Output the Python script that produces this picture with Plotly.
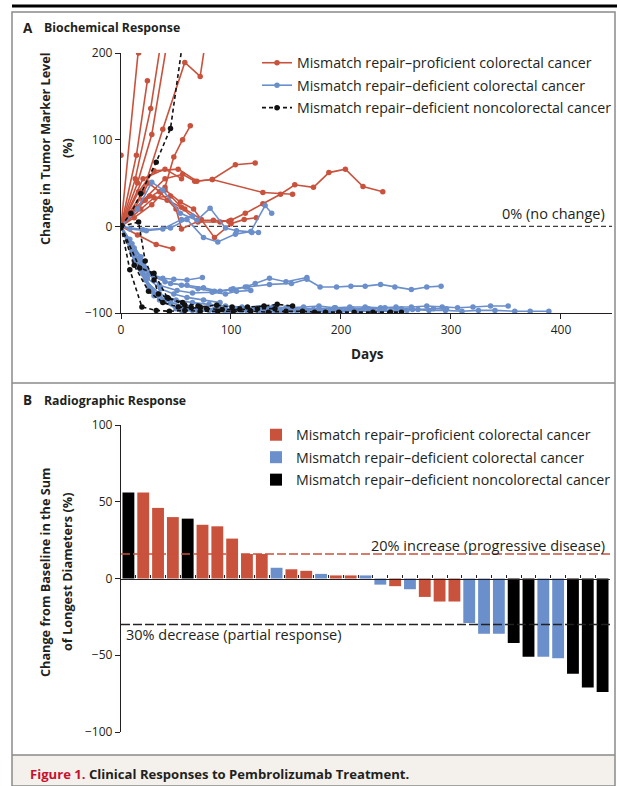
import plotly.graph_objects as go

W, H = 617, 786
def px(x): return x / W
def py(y): return 1 - y / H

RED = "#c9523d"
BLUE = "#6b8fcb"
BLACK = "#111111"
TXT = "#231f20"
FONT = "Open Sans"

# ---------------- Panel A data (days, % change) ----------------
red_days = [
    [0, 16, 19],
    [0, 14, 24],
    [0, 13, 27, 36],
    [0, 15, 28, 41],
    [0, 20, 38, 58, 72, 77],
    [0, 22, 40, 48, 56, 63],
    [0, 16, 30, 52, 69, 83, 104, 122],
    [0, 20, 40, 56, 67, 83, 129, 156],
    [0, 18, 30, 45, 55, 70, 90, 100, 113, 129, 145, 158, 175, 189, 204, 220, 238],
    [0, 12, 28, 40, 54, 66, 85, 100, 112, 123],
    [0, 15, 32, 47],
    [0, 10, 25, 35, 50, 55, 72, 84, 98],
    [0, 12, 26, 42, 58, 73],
    [0, 20, 40, 55],
    [0],
]
red_vals = [
    [0, 200, 245],
    [0, 82, 168],
    [0, 55, 136, 210],
    [0, 50, 106, 205],
    [0, 40, 112, 189, 173, 215],
    [0, 30, 45, 80, 100, 116],
    [0, 40, 64, 66, 52, 54, 71, 73],
    [0, 30, 55, 60, 52, 54, 39, 37],
    [0, 20, 33, 35, 22, 5, 5, 7, 15, 26, 37, 48, 45, 62, 66, 46, 40],
    [0, 10, 25, 42, 28, 20, -13, 3, 8, 10],
    [0, -10, -21, -26],
    [0, 15, 50, 40, 20, -3, 7, 7, 6],
    [0, 20, 35, 30, 20, 8],
    [0, 55, 66, 55],
    [82],
]

blue_days = [
    [0, 15, 28, 38, 54, 69, 81, 95, 105, 119, 125],
    [0, 20, 45, 60, 75, 88, 104, 118, 131, 137],
    [0, 8, 23, 38, 55, 65],
    [0, 8, 18, 27, 38, 48, 60, 74],
    [0, 10, 20, 30, 45, 60, 75, 90, 102, 113, 122, 135, 150, 169],
    [0, 12, 25, 40, 55, 70, 85, 100, 115, 135, 155, 169, 181, 196, 209, 222, 236, 249, 264, 278, 291],
    [0, 10, 22, 35, 51, 65, 83, 95, 105, 118],
    [0, 12, 24, 36, 48, 60, 75, 90],
    [0, 10, 22, 35, 50, 65, 80, 95, 110, 124, 138, 152, 166, 180, 194, 208, 222, 236, 250, 264, 278, 292, 306, 320, 336, 352],
    [0, 12, 25, 40, 55, 70, 85, 100, 115, 130, 145, 160, 175, 190, 205, 220, 235, 250, 265, 280, 295, 310, 325, 340, 358, 372, 389],
    [0, 15, 28, 45, 60, 75, 90, 105, 120, 135, 150, 165, 180, 195, 210, 225, 240, 255, 270, 284, 296],
    [0, 18, 30, 50, 65, 80, 95, 110, 125, 140, 155, 170, 185, 200, 215, 230, 245, 260],
    [0, 20, 35, 55, 70, 85, 100, 115, 130, 145, 160, 175, 190, 200],
]
blue_vals = [
    [0, 20, 51, 42, 15, 7, 21, -2, -5, -7, -7],
    [0, -4, -2, 8, -13, -18, -9, -6, 24, 15],
    [0, -3, -5, -3, 8, 12],
    [0, -15, -35, -55, -60, -61, -62, -59],
    [0, -20, -42, -58, -66, -68, -71, -75, -72, -70, -66, -60, -64, -59],
    [0, -25, -55, -64, -68, -72, -75, -73, -70, -67, -66, -61, -70, -70, -69, -69, -67, -70, -73, -70, -69],
    [0, -25, -50, -68, -74, -77, -76, -78, -75, -74],
    [0, -30, -60, -72, -78, -82, -85, -88],
    [0, -30, -62, -78, -85, -88, -90, -92, -93, -94, -93, -94, -93, -92, -94, -93, -93, -94, -93, -93, -92, -93, -94, -93, -92, -92],
    [0, -40, -70, -85, -92, -95, -96, -96, -97, -96, -97, -97, -96, -97, -97, -96, -97, -97, -96, -97, -97, -98, -97, -97, -98, -98, -98],
    [0, -45, -75, -88, -93, -95, -95, -96, -95, -95, -94, -95, -95, -94, -95, -95, -94, -95, -96, -95, -95],
    [0, -50, -80, -95, -97, -97, -98, -97, -98, -98, -97, -98, -98, -97, -98, -98, -98, -97],
    [0, -55, -85, -97, -98, -98, -99, -98, -98, -99, -98, -98, -99, -98],
]

black_days = [
    [0, 9, 18, 32, 45, 58],
    [0, 16, 22, 30, 34, 43, 58, 72, 87, 101, 115, 130, 142, 156],
    [0, 8, 19, 32, 44, 58, 72, 88, 102, 118, 134, 150, 165, 176, 186, 198, 212, 229, 245, 255],
    [0, 12, 25, 38, 52, 64, 78, 92, 108, 124, 140],
    [0, 17, 30, 42, 56, 70],
]
black_vals = [
    [0, 15, 38, 74, 113, 230],
    [0, 5, -40, -62, -78, -83, -91, -93, -91, -93, -93, -92, -90, -92],
    [0, -50, -93, -97, -98, -97, -98, -98, -98, -98, -99, -98, -98, -99, -99, -99, -99, -99, -99, -99],
    [0, -45, -75, -88, -93, -94, -95, -96, -96, -95, -95],
    [0, -48, -54, -82, -88, -92],
]

legend_A = [
    "Mismatch repair–proficient colorectal cancer",
    "Mismatch repair–deficient colorectal cancer",
    "Mismatch repair–deficient noncolorectal cancer",
]

# ---------------- Panel B data ----------------
bar_vals = [56, 56, 46, 40, 39, 35, 34, 26, 16, 16, 7, 6, 5, 3, 2, 2, 2,
            -4, -5, -7, -12, -15, -15, -29, -36, -36, -42, -51, -51, -52, -62, -71, -74]
bar_group = ["K", "R", "R", "R", "K", "R", "R", "R", "R", "R", "B", "R", "R", "B", "R", "R", "B",
             "B", "R", "B", "R", "R", "R", "B", "B", "B", "K", "K", "B", "B", "K", "K", "K"]
progressive_line = 16
partial_line = -30

fig = go.Figure()

def add_group(days_list, vals_list, color, name, dash, group):
    for i, (d, v) in enumerate(zip(days_list, vals_list)):
        fig.add_trace(go.Scatter(
            x=d, y=v, mode="lines+markers", name=name,
            line=dict(color=color, width=1.6, dash=dash),
            marker=dict(color=color, size=5.5),
            legendgroup=group, showlegend=(i == 0), legend="legend",
            xaxis="x", yaxis="y", cliponaxis=True,
        ))

add_group(red_days, red_vals, RED, legend_A[0], "solid", "r")
add_group(blue_days, blue_vals, BLUE, legend_A[1], "solid", "b")
add_group(black_days, black_vals, BLACK, legend_A[2], "4px,3px", "k")

cmap = {"R": RED, "B": BLUE, "K": "#000000"}
for g, nm in [("R", legend_A[0]), ("B", legend_A[1]), ("K", legend_A[2])]:
    xs = [i for i, gg in enumerate(bar_group) if gg == g]
    ys = [bar_vals[i] for i in xs]
    fig.add_trace(go.Bar(x=xs, y=ys, name=nm, marker=dict(color=cmap[g], line=dict(width=0)),
                         width=0.8, xaxis="x2", yaxis="y2", legend="legend2", legendgroup="B" + g))

axis_common = dict(showgrid=False, zeroline=False, showline=True, linecolor=TXT, linewidth=1.3,
                   ticks="outside", ticklen=5, tickwidth=1.2, tickcolor=TXT, automargin=False,
                   tickfont=dict(family=FONT, size=12, color=TXT))

LEG_FONT = 14.2
y2dom = [py(732), py(425)]
fig.update_layout(
    width=W, height=H, margin=dict(l=0, r=0, t=0, b=0, autoexpand=False),
    paper_bgcolor="white", plot_bgcolor="rgba(0,0,0,0)",
    barmode="overlay",
    xaxis=dict(domain=[px(121), px(612)], range=[0, 446.4], tickvals=[0, 100, 200, 300, 400],
               anchor="y", **axis_common),
    yaxis=dict(domain=[py(313), py(53)], range=[-100, 200], tickvals=[-100, 0, 100, 200],
               anchor="x", **axis_common),
    xaxis2=dict(domain=[px(121), px(610)], range=[-0.5, 32.5], anchor="free",
                position=(y2dom[0] + y2dom[1]) / 2, automargin=False,
                tickvals=[i + 0.5 for i in range(-1, 33)], showticklabels=False,
                showgrid=False, zeroline=False, showline=True, linecolor=TXT, linewidth=1.3,
                ticks="inside", ticklen=3, tickcolor=TXT, tickwidth=1),
    yaxis2=dict(domain=y2dom, range=[-100, 100], tickvals=[-100, -50, 0, 50, 100],
                anchor="x2", **axis_common),
    legend=dict(x=px(257), y=py(47), xanchor="left", yanchor="top", bgcolor="rgba(0,0,0,0)",
                font=dict(family=FONT, size=LEG_FONT, color=TXT), traceorder="grouped",
                tracegroupgap=1, itemwidth=30),
    legend2=dict(x=px(256), y=py(419), xanchor="left", yanchor="top", bgcolor="rgba(0,0,0,0)",
                 font=dict(family=FONT, size=LEG_FONT, color=TXT), traceorder="grouped",
                 tracegroupgap=1, itemwidth=30),
    font=dict(family=FONT, color=TXT),
)

shapes = [
    dict(type="line", xref="paper", yref="paper", x0=px(12), x1=1, y0=py(6), y1=py(6),
         line=dict(color="#000000", width=3)),
    dict(type="rect", xref="paper", yref="paper", x0=px(12), x1=px(615), y0=py(755), y1=0,
         fillcolor="#f4f1ec", line=dict(width=0), layer="below"),
    dict(type="rect", xref="paper", yref="paper", x0=px(12), x1=px(615), y0=0, y1=py(12),
         line=dict(color="#8a8a8a", width=1.5), fillcolor="rgba(0,0,0,0)"),
    dict(type="line", xref="paper", yref="paper", x0=px(12), x1=px(615), y0=py(383), y1=py(383),
         line=dict(color="#8a8a8a", width=1.5)),
    dict(type="line", xref="paper", yref="paper", x0=px(12), x1=px(615), y0=py(755), y1=py(755),
         line=dict(color="#8a8a8a", width=1.5)),
    dict(type="line", xref="x", yref="y", x0=0, x1=446.4, y0=0, y1=0,
         line=dict(color="#3c3c3c", width=1.4, dash="5px,3px"), layer="below"),
    dict(type="line", xref="x2", yref="y2", x0=-0.5, x1=32.5, y0=progressive_line, y1=progressive_line,
         line=dict(color=RED, width=1.5, dash="9px,3px"), layer="above"),
    dict(type="line", xref="x2", yref="y2", x0=-0.5, x1=32.5, y0=partial_line, y1=partial_line,
         line=dict(color="#222222", width=1.4, dash="9px,3px"), layer="above"),
]

def ann(text, x, y, size=12, bold=False, xanchor="left", angle=0, color=TXT):
    t = f"<b>{text}</b>" if bold else text
    return dict(text=t, x=px(x), y=py(y), xref="paper", yref="paper", showarrow=False,
                xanchor=xanchor, yanchor="middle", textangle=angle,
                font=dict(family=FONT, size=size, color=color))

annotations = [
    ann("A", 21, 28, 13.5, True),
    ann("Biochemical Response", 42, 28, 12.3, True),
    ann("B", 21, 400, 13.5, True),
    ann("Radiographic Response", 42, 400, 12.3, True),
    ann("Change in Tumor Marker Level", 45, 148, 12.6, True, "center", -90),
    ann("(%)", 67, 148, 12.6, True, "center", -90),
    ann("Days", 367, 354, 13.5, True, "center"),
    ann("0% (no change)", 607, 213, 14.5, False, "right"),
    ann("Change from Baseline in the Sum", 45, 572, 12.7, True, "center", -90),
    ann("of Longest Diameters (%)", 67, 572, 12.7, True, "center", -90),
    ann("20% increase (progressive disease)", 607, 545, 14.5, False, "right"),
    ann("30% decrease (partial response)", 124, 634, 14.5, False, "left"),
    dict(text="<span style='color:#c8102e'><b>Figure 1.</b></span> <b>Clinical Responses to Pembrolizumab Treatment.</b>",
         x=px(28), y=py(774), xref="paper", yref="paper", showarrow=False, xanchor="left",
         yanchor="middle", font=dict(family=FONT, size=13.1, color=TXT)),
]
fig.update_layout(shapes=shapes, annotations=annotations)
fig.write_html("out.html")
